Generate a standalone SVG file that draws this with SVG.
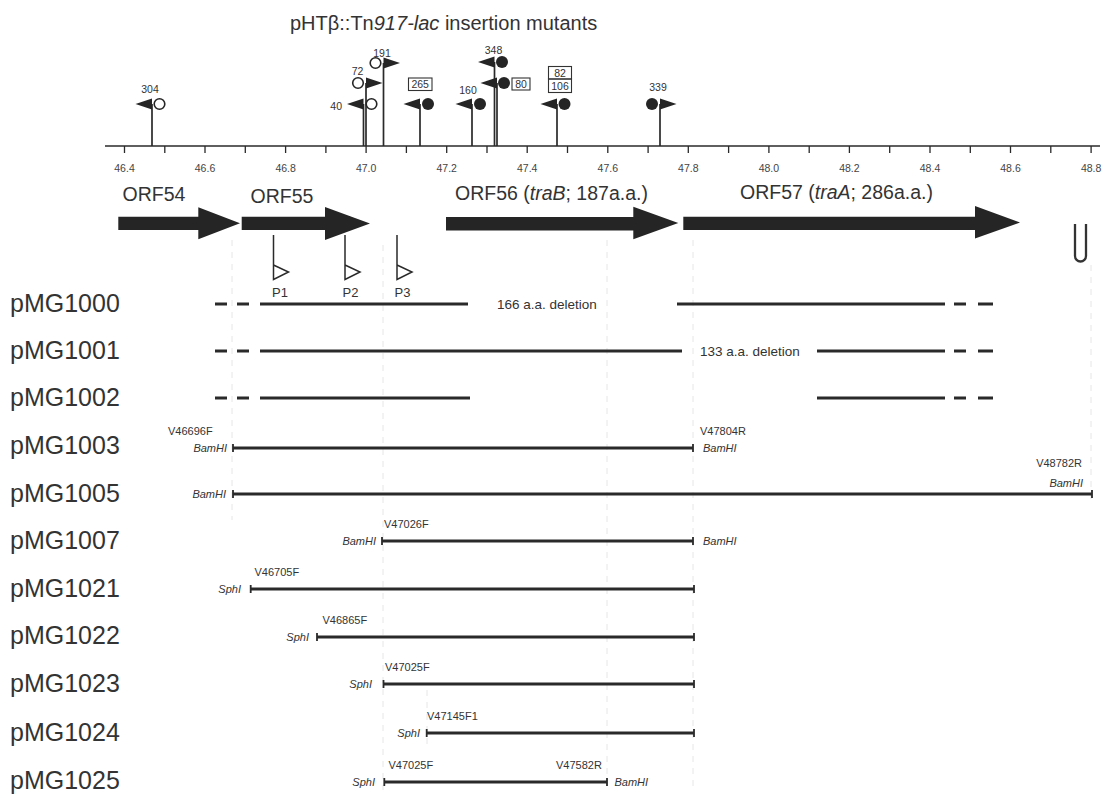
<svg xmlns="http://www.w3.org/2000/svg" width="1109" height="798" viewBox="0 0 1109 798">
<style>
text{font-family:"Liberation Sans",Arial,sans-serif;fill:#333}
.title{font-size:20px}
.row{font-size:25px}
.orf{font-size:19.5px}
.sm{font-size:11px}
.num{font-size:10.5px}
.tick{font-size:10.5px;fill:#444}
.p{font-size:13px}
.del{font-size:13.5px}
.it{font-style:italic}
.bar{stroke:#2a2a2a;stroke-width:3;fill:none}
.cap{stroke:#2a2a2a;stroke-width:1.8;fill:none}
.stem{stroke:#2a2a2a;stroke-width:1.7}
.dk{fill:#252525}
.oc{fill:#fff;stroke:#252525;stroke-width:1.6}
.box{fill:none;stroke:#333;stroke-width:1.1}
.grid{stroke:#e6e6e6;stroke-width:1;stroke-dasharray:6 6}
.prom{fill:none;stroke:#2a2a2a;stroke-width:1.5}
</style>
<defs>
<path id="fl" d="M0,-5.5 L0,5.5 L-16.5,0 Z"/>
<path id="fr" d="M0,-5.5 L0,5.5 L16.5,0 Z"/>
</defs>
<rect width="1109" height="798" fill="#fff"/>

<g id="gridlines">
<line class="grid" x1="232" y1="240" x2="232" y2="520"/>
<line class="grid" x1="383" y1="245" x2="383" y2="790"/>
<line class="grid" x1="427" y1="690" x2="427" y2="750"/>
<line class="grid" x1="607" y1="240" x2="607" y2="790"/>
<line class="grid" x1="693" y1="240" x2="693" y2="790"/>
<line class="grid" x1="1091" y1="265" x2="1091" y2="500"/>
</g>

<text id="title" class="title" x="290" y="30">pHTβ::Tn<tspan class="it">917</tspan><tspan class="it">-lac</tspan> insertion mutants</text>

<g id="axis">
<line x1="105" y1="146" x2="1100" y2="146" stroke="#2a2a2a" stroke-width="1.5"/>
<path stroke="#2a2a2a" stroke-width="1.3" d="M124.5,146v7 M164.8,146v7 M205,146v7 M245.3,146v7 M285.6,146v7 M325.9,146v7 M366.1,146v7 M406.4,146v7 M446.7,146v7 M487,146v7 M527.2,146v7 M567.5,146v7 M607.8,146v7 M648.1,146v7 M688.3,146v7 M728.6,146v7 M768.9,146v7 M809.2,146v7 M849.4,146v7 M889.7,146v7 M930,146v7 M970.3,146v7 M1010.5,146v7 M1050.8,146v7 M1091.1,146v7"/>
<g class="tick" text-anchor="middle">
<text class="tick" x="124.5" y="172">46.4</text>
<text class="tick" x="205" y="172">46.6</text>
<text class="tick" x="285.6" y="172">46.8</text>
<text class="tick" x="366.1" y="172">47.0</text>
<text class="tick" x="446.7" y="172">47.2</text>
<text class="tick" x="527.2" y="172">47.4</text>
<text class="tick" x="607.8" y="172">47.6</text>
<text class="tick" x="688.3" y="172">47.8</text>
<text class="tick" x="768.9" y="172">48.0</text>
<text class="tick" x="849.4" y="172">48.2</text>
<text class="tick" x="930" y="172">48.4</text>
<text class="tick" x="1010.5" y="172">48.6</text>
<text class="tick" x="1091.1" y="172">48.8</text>
</g>
</g>

<g id="stems">
<line class="stem" x1="152" y1="146" x2="152" y2="104"/>
<line class="stem" x1="363.5" y1="146" x2="363.5" y2="104"/>
<line class="stem" x1="366" y1="146" x2="366" y2="83"/>
<line class="stem" x1="383.5" y1="146" x2="383.5" y2="63"/>
<line class="stem" x1="420" y1="146" x2="420" y2="104"/>
<line class="stem" x1="472" y1="146" x2="472" y2="104"/>
<line class="stem" x1="494.5" y1="146" x2="494.5" y2="62"/>
<line class="stem" x1="497" y1="146" x2="497" y2="83"/>
<line class="stem" x1="557" y1="146" x2="557" y2="104"/>
<line class="stem" x1="660" y1="146" x2="660" y2="104"/>
</g>

<g id="m304">
<use href="#fl" x="152" y="104" class="dk"/>
<circle class="oc" cx="159.5" cy="104" r="5.3"/>
<text class="num" x="150" y="93" text-anchor="middle">304</text>
</g>
<g id="m40">
<use href="#fl" x="363.5" y="104" class="dk"/>
<circle class="oc" cx="371.5" cy="104" r="5.3"/>
<text class="num" x="342" y="110" text-anchor="end">40</text>
</g>
<g id="m72">
<use href="#fr" x="366" y="83" class="dk"/>
<circle class="oc" cx="358" cy="83" r="5.3"/>
<text class="num" x="357.5" y="75" text-anchor="middle">72</text>
</g>
<g id="m191">
<use href="#fr" x="383.5" y="63" class="dk"/>
<circle class="oc" cx="375.5" cy="63" r="5.3"/>
<text class="num" x="382" y="56.5" text-anchor="middle">191</text>
</g>
<g id="m265">
<use href="#fl" x="420" y="104" class="dk"/>
<circle class="dk" cx="428" cy="104" r="6"/>
<rect class="box" x="408.5" y="78" width="23.5" height="12.5"/>
<text class="num" x="420.2" y="88.3" text-anchor="middle">265</text>
</g>
<g id="m160">
<use href="#fl" x="472" y="104" class="dk"/>
<circle class="dk" cx="480" cy="104" r="6"/>
<text class="num" x="468" y="94" text-anchor="middle">160</text>
</g>
<g id="m348">
<use href="#fl" x="494.5" y="62" class="dk"/>
<circle class="dk" cx="502" cy="62" r="6"/>
<text class="num" x="493.5" y="53.5" text-anchor="middle">348</text>
</g>
<g id="m80">
<use href="#fl" x="497" y="83" class="dk"/>
<circle class="dk" cx="504" cy="83" r="6"/>
<rect class="box" x="512" y="78" width="18" height="12"/>
<text class="num" x="521" y="88" text-anchor="middle">80</text>
</g>
<g id="m82-106">
<use href="#fl" x="557" y="104" class="dk"/>
<circle class="dk" cx="564.5" cy="104" r="6"/>
<rect class="box" x="548.5" y="66.5" width="23" height="12.5"/>
<rect class="box" x="548.5" y="79" width="23" height="13.5"/>
<text class="num" x="560" y="76.5" text-anchor="middle">82</text>
<text class="num" x="560" y="89.7" text-anchor="middle">106</text>
</g>
<g id="m339">
<use href="#fr" x="660" y="104" class="dk"/>
<circle class="dk" cx="652" cy="104" r="6"/>
<text class="num" x="658" y="91" text-anchor="middle">339</text>
</g>

<g id="orf54">
<polygon class="dk" points="118.3,216.7 198.3,216.7 198.3,207.3 240,223.3 198.3,239.3 198.3,230 118.3,230"/>
<text class="orf" x="122.5" y="201">ORF54</text>
</g>
<g id="orf55">
<polygon class="dk" points="241.7,216.7 325,216.7 325,207 370,223.5 325,240 325,230 241.7,230"/>
<text class="orf" x="250.5" y="203">ORF55</text>
</g>
<g id="orf56">
<polygon class="dk" points="446,217 633.3,217 633.3,206.7 678.3,223 633.3,239.3 633.3,230.5 446,230.5"/>
<text class="orf" x="455" y="200">ORF56 (<tspan class="it">traB</tspan>; 187a.a.)</text>
</g>
<g id="orf57">
<polygon class="dk" points="683.3,216.7 975,216.7 975,206 1020,222.5 975,238.5 975,230 683.3,230"/>
<text class="orf" x="740" y="199">ORF57 (<tspan class="it">traA</tspan>; 286a.a.)</text>
</g>
<g id="terminator">
<path d="M1075,224 V256 A5.5,5.5 0 0 0 1086,256 V224" fill="none" stroke="#333" stroke-width="2.3"/>
</g>

<g id="P1">
<path class="prom" d="M273.5,235 V279.5 L288.5,272 L273.5,265"/>
<text class="p" x="280" y="296.5" text-anchor="middle">P1</text>
</g>
<g id="P2">
<path class="prom" d="M345,235 V279.5 L360,272 L345,265"/>
<text class="p" x="350.5" y="296.5" text-anchor="middle">P2</text>
</g>
<g id="P3">
<path class="prom" d="M397,235 V279.5 L412,272 L397,265"/>
<text class="p" x="402.5" y="296.5" text-anchor="middle">P3</text>
</g>

<g id="pMG1000">
<text class="row" x="10" y="312">pMG1000</text>
<path class="bar" d="M215,304H227 M237,304H249 M260,304H468 M677,304H945 M954,304H966 M978,304H993"/>
<text class="del" x="497" y="309">166 a.a. deletion</text>
</g>
<g id="pMG1001">
<text class="row" x="10" y="359">pMG1001</text>
<path class="bar" d="M215,351H227 M237,351H249 M260,351H682 M817,351H945 M954,351H966 M978,351H993"/>
<text class="del" x="700" y="356">133 a.a. deletion</text>
</g>
<g id="pMG1002">
<text class="row" x="10" y="406">pMG1002</text>
<path class="bar" d="M215,398H227 M237,398H249 M260,398H470 M817,398H945 M954,398H966 M978,398H993"/>
</g>
<g id="pMG1003">
<text class="row" x="10" y="454">pMG1003</text>
<path class="bar" d="M233,448H693"/>
<path class="cap" d="M233,444v8 M693,444v8"/>
<text class="sm" x="168" y="435">V46696F</text>
<text class="sm it" x="227" y="452" text-anchor="end">BamHI</text>
<text class="sm" x="700" y="435">V47804R</text>
<text class="sm it" x="703" y="452">BamHI</text>
</g>
<g id="pMG1005">
<text class="row" x="10" y="502">pMG1005</text>
<path class="bar" d="M233,494H1092"/>
<path class="cap" d="M233,490v8 M1092,490v8"/>
<text class="sm it" x="226" y="498" text-anchor="end">BamHI</text>
<text class="sm" x="1082" y="467" text-anchor="end">V48782R</text>
<text class="sm it" x="1083" y="487" text-anchor="end">BamHI</text>
</g>
<g id="pMG1007">
<text class="row" x="10" y="549">pMG1007</text>
<path class="bar" d="M382,541H693"/>
<path class="cap" d="M382,537v8 M693,537v8"/>
<text class="sm it" x="376" y="545" text-anchor="end">BamHI</text>
<text class="sm" x="384" y="528">V47026F</text>
<text class="sm it" x="703" y="545">BamHI</text>
</g>
<g id="pMG1021">
<text class="row" x="10" y="597">pMG1021</text>
<path class="bar" d="M250.7,589H694"/>
<path class="cap" d="M250.7,585v8 M694,585v8"/>
<text class="sm it" x="241" y="593" text-anchor="end">SphI</text>
<text class="sm" x="254.5" y="576">V46705F</text>
</g>
<g id="pMG1022">
<text class="row" x="10" y="644">pMG1022</text>
<path class="bar" d="M317,637H694"/>
<path class="cap" d="M317,633v8 M694,633v8"/>
<text class="sm it" x="309" y="641" text-anchor="end">SphI</text>
<text class="sm" x="322.5" y="624">V46865F</text>
</g>
<g id="pMG1023">
<text class="row" x="10" y="692">pMG1023</text>
<path class="bar" d="M383.5,684H694"/>
<path class="cap" d="M383.5,680v8 M694,680v8"/>
<text class="sm it" x="372" y="688" text-anchor="end">SphI</text>
<text class="sm" x="385" y="671">V47025F</text>
</g>
<g id="pMG1024">
<text class="row" x="10" y="741">pMG1024</text>
<path class="bar" d="M426.7,733H694"/>
<path class="cap" d="M426.7,729v8 M694,729v8"/>
<text class="sm it" x="420" y="737" text-anchor="end">SphI</text>
<text class="sm" x="427" y="720">V47145F1</text>
</g>
<g id="pMG1025">
<text class="row" x="10" y="789">pMG1025</text>
<path class="bar" d="M384.3,782H607"/>
<path class="cap" d="M384.3,778v8 M607,778v8"/>
<text class="sm it" x="375" y="786" text-anchor="end">SphI</text>
<text class="sm" x="388.5" y="769">V47025F</text>
<text class="sm" x="556" y="769">V47582R</text>
<text class="sm it" x="614.5" y="786">BamHI</text>
</g>
</svg>
